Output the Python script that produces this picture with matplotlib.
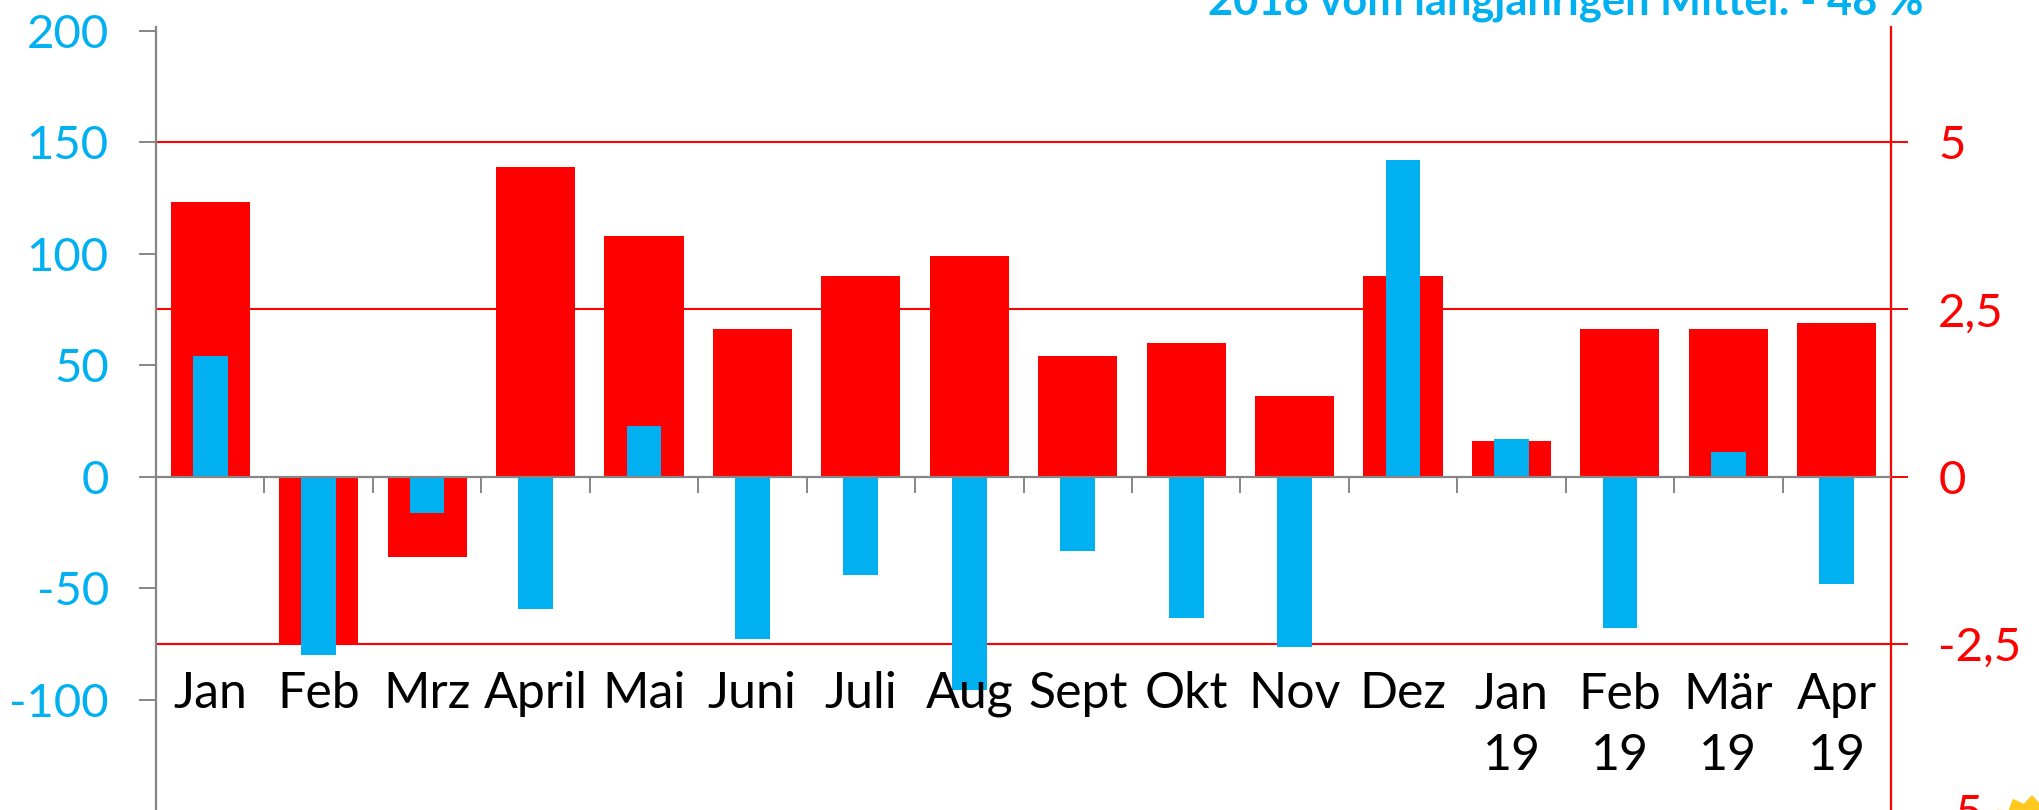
import matplotlib
matplotlib.use('Agg')
import matplotlib.pyplot as plt
from matplotlib.patches import PathPatch
from matplotlib.path import Path
from matplotlib.transforms import Affine2D
import numpy as np

months = ['Jan', 'Feb', 'Mrz', 'April', 'Mai', 'Juni', 'Juli', 'Aug', 'Sept', 'Okt', 'Nov', 'Dez',
          'Jan\n19', 'Feb\n19', 'Mär\n19', 'Apr\n19']
# temperature deviation, right axis
temp = [4.1, -2.5, -1.2, 4.63, 3.6, 2.2, 3.0, 3.3, 1.8, 2.0, 1.2, 3.0, 0.53, 2.2, 2.2, 2.3]
# precipitation deviation, left axis
rain = [54, -80, -16.5, -59.5, 22.5, -73, -44, -95.5, -33.5, -63.5, -76.5, 142, 17, -68, 11, -48]
left_ticks = [-100, -50, 0, 50, 100, 150, 200]
right_ticks = [-5, -2.5, 0, 2.5, 5]
right_labels = ['-5', '-2,5', '0', '2,5', '5']
grid_values = [-2.5, 2.5, 5]
title = '2018 vom langjährigen Mittel: - 48 %'

RED = '#FF0000'
BLUE = '#00B0F0'
GREY = '#868686'
SUN = '#FFC91F'
W, H = 2040, 810

plt.rcParams['font.family'] = ['Lato', 'DejaVu Sans']
plt.rcParams['axes.unicode_minus'] = False

fig = plt.figure(figsize=(W / 100, H / 100), dpi=100)

# axes box in pixels
x0, x1, y_top, y_bot = 156, 1891, 27, 811
ax_l = fig.add_axes([x0 / W, 1 - y_bot / H, (x1 - x0) / W, (y_bot - y_top) / H])
ax_r = ax_l.twinx()

x = np.arange(len(months))
ax_l.set_xlim(-0.5, len(months) - 0.5)
ax_l.set_ylim(-150, 201.7)
ax_r.set_ylim(-5.0, 6.72)

# rain bars have to sit on top of the temperature bars
ax_l.set_zorder(2)
ax_r.set_zorder(1)
ax_l.patch.set_visible(False)

ax_r.hlines(grid_values, -0.5, len(months) - 0.5, color=RED, lw=1.5, zorder=1)
ax_r.vlines(x[:-1] + 0.5, -0.24, 0, color=GREY, lw=1.4, zorder=1)
ax_r.bar(x, temp, width=0.73, color=RED, zorder=2)
ax_l.bar(x, rain, width=0.32, color=BLUE, zorder=3)
ax_l.axhline(0, color=GREY, lw=1.6, zorder=4)

# left axis
ax_l.set_xticks([])
ax_l.set_yticks(left_ticks)
ax_l.tick_params(axis='y', length=12, width=1.4, color=GREY, labelcolor=BLUE, labelsize=34, pad=22)
for s in ['top', 'right', 'bottom']:
    ax_l.spines[s].set_visible(False)
ax_l.spines['left'].set_color(GREY)
ax_l.spines['left'].set_linewidth(1.6)

# right axis
ax_r.set_yticks(right_ticks)
ax_r.set_yticklabels(right_labels)
ax_r.tick_params(axis='y', length=12, width=1.4, color=RED, labelcolor=RED, labelsize=34, pad=22)
for s in ['top', 'left', 'bottom']:
    ax_r.spines[s].set_visible(False)
ax_r.spines['right'].set_color(RED)
ax_r.spines['right'].set_linewidth(1.6)

# month labels, two line ones share the first baseline with the others
for i, m in enumerate(months):
    base = 770 if '\n' in m else 708
    ax_l.annotate(m, (x[i], 0), xytext=(0, -(base - 477) * 0.72), textcoords='offset points',
                  ha='center', va='baseline', fontsize=36, color='black', linespacing=1.4, zorder=5,
                  annotation_clip=False)

fig.text(1923 / W, 1 - 14 / H, title, ha='right', va='baseline', fontsize=31.2, fontweight='bold', color=BLUE)

# sun in the lower right corner, mostly outside the picture
sun = Path.unit_regular_star(16, innerCircle=0.84)
fig.add_artist(PathPatch(sun, transform=Affine2D().scale(50).translate(2032, H - 845),
                         facecolor=SUN, edgecolor='none'))

fig.savefig('out.png', dpi=100)
